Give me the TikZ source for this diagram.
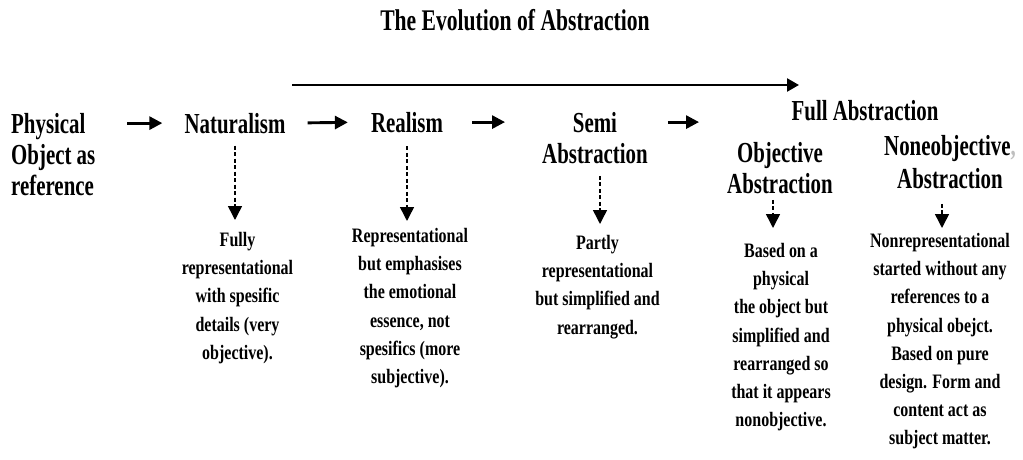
\documentclass[tikz,border=0pt]{standalone}
\usepackage{fontspec}
\newfontfamily\headfont{Liberation Serif}[FakeStretch=0.72]
\newfontfamily\descfont{Liberation Serif}[FakeStretch=0.78]
\usetikzlibrary{arrows.meta}
\begin{document}
\begin{tikzpicture}[x=1pt,y=-1pt,
  titletext/.style={font=\headfont\bfseries\fontsize{30}{32}\selectfont, inner sep=0pt, anchor=base},
  head/.style={font=\headfont\bfseries\fontsize{29}{31}\selectfont, inner sep=0pt, align=center},
  desc/.style={font=\descfont\bfseries\fontsize{20.5}{28.2}\selectfont, inner sep=0pt, align=center, anchor=north},
  flow/.style={line width=2.9pt, -{Triangle[length=13pt,width=13pt]}},
  longflow/.style={line width=2.4pt, -{Triangle[length=12pt,width=13pt]}},
  dasharrow/.style={line width=1.5pt, dash pattern=on 4pt off 2.5pt, -{Triangle[length=14pt,width=14pt]}}]
\useasboundingbox[fill=white] (0,0) rectangle (1023,460);

\node[titletext] (title) at (515,31) {The Evolution of Abstraction};

% long arrow
\coordinate (ls) at (292,85);
\coordinate (le) at (799,85);
\draw[longflow] (ls) -- (le);

% headings
\node[head, anchor=north west, align=left] (phys) at (11,113) {Physical\\Object as\\reference};
\node[head, anchor=base] (nat) at (235,133) {Naturalism};
\node[head, anchor=base] (real) at (407,132) {Realism};
\node[head, anchor=north] (semi) at (595,112) {Semi\\Abstraction};
\node[head, anchor=base] (full) at (865,120) {Full Abstraction};
\node[head, anchor=north] (obj) at (780,142) {Objective\\Abstraction};
\node[head, anchor=north, font=\headfont\bfseries\fontsize{29}{33}\selectfont] (nono) at (950,135) {Noneobjective{\color{gray!50},}\\Abstraction};

% descriptions
\node[desc] (natd) at (237.5,232) {Fully\\representational\\with spesific\\details (very\\objective).};
\node[desc] (reald) at (410,228) {Representational\\but emphasises\\the emotional\\essence, not\\spesifics (more\\subjective).};
\node[desc] (semid) at (597.5,235) {Partly\\representational\\but simplified and\\rearranged.};
\node[desc] (objd) at (781,243) {Based on a\\physical\\the object but\\simplified and\\rearranged so\\that it appears\\nonobjective.};
\node[desc] (nonod) at (940,233) {Nonrepresentational\\started without any\\references to a\\physical obejct.\\Based on pure\\design. Form and\\content act as\\subject matter.};

% main flow arrows
\draw[flow, shorten <=32pt, shorten >=22pt] (phys.east |- nat.west) -- (nat.west);
\draw[flow, shorten <=22pt, shorten >=23pt] (nat.east) -- (real.west);
\draw[flow, shorten <=29pt, shorten >=37pt] (real.east) -- (semi.west |- real.east);
\draw[flow, shorten <=20pt, shorten >=28pt] (semi.east |- real.east) -- (obj.west |- real.east);

% dashed arrows
\draw[dasharrow, shorten <=12pt, shorten >=12pt] (nat.south) -- (nat.south |- natd.north);
\draw[dasharrow, shorten <=14pt, shorten >=7pt] (real.south) -- (real.south |- reald.north);
\draw[dasharrow, shorten <=12pt, shorten >=11pt] ([xshift=5pt]semi.south) -- ([xshift=5pt]semi.south |- semid.north);
\draw[dasharrow, shorten <=6pt, shorten >=15pt] ([xshift=-7pt]obj.south) -- ([xshift=-7pt]obj.south |- objd.north);
\draw[dasharrow, shorten <=15pt, shorten >=5pt] ([xshift=-8pt]nono.south) -- ([xshift=-8pt]nono.south |- nonod.north);
\end{tikzpicture}
\end{document}
